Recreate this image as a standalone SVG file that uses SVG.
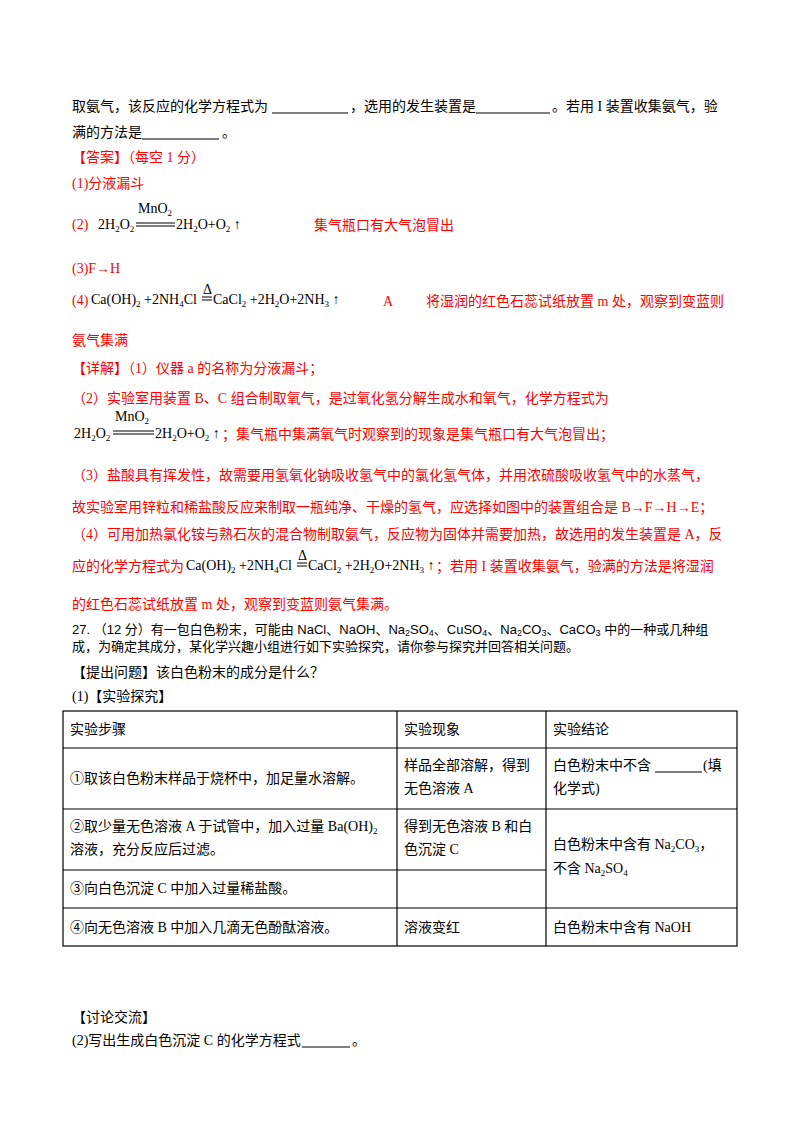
<svg xmlns="http://www.w3.org/2000/svg" width="800" height="1132" viewBox="0 0 800 1132">
<style>
text{font-family:"Liberation Serif","Noto Sans CJK SC",serif;font-size:14px;fill:#000}
.r{fill:#f00}
.s{font-size:9px}
.sans{font-family:"Liberation Sans","Noto Sans CJK SC",sans-serif;font-size:13px}
.ln{stroke:#000;stroke-width:1.2}
.tb{stroke:#000;stroke-width:1.2;fill:none}
</style>
<rect width="800" height="1132" fill="#fff"/>
<g id="question-end">
<text x="72" y="111">取氨气，该反应的化学方程式为</text>
<line class="ln" x1="272" y1="113" x2="348" y2="113"/>
<text x="350" y="111">，选用的发生装置是</text>
<line class="ln" x1="476" y1="113" x2="550" y2="113"/>
<text x="552" y="111">。若用 I 装置收集氨气，验</text>
<text x="72" y="137">满的方法是</text>
<line class="ln" x1="142" y1="139" x2="219" y2="139"/>
<text x="222" y="137">。</text>
</g>
<g id="answer">
<text class="r" x="72" y="162">【答案】（每空 1 分）</text>
<text class="r" x="72" y="188">(1)分液漏斗</text>
<text class="r" x="72" y="229">(2)</text>
<text x="98" y="229">2H<tspan class="s" dy="3">2</tspan><tspan dy="-3">O</tspan><tspan class="s" dy="3">2</tspan></text>
<text x="138" y="213" font-size="12">MnO<tspan class="s" dy="3">2</tspan></text>
<line x1="136" y1="223" x2="175" y2="223" stroke="#000"/><line x1="136" y1="226" x2="175" y2="226" stroke="#000"/>
<text x="176" y="229">2H<tspan class="s" dy="3">2</tspan><tspan dy="-3">O+O</tspan><tspan class="s" dy="3">2</tspan><tspan dy="-3"> ↑</tspan></text>
<text class="r" x="314" y="230">集气瓶口有大气泡冒出</text>
<text class="r" x="72" y="273">(3)F→H</text>
<text class="r" x="72" y="305">(4)</text>
<text x="91" y="304">Ca(OH)<tspan class="s" dy="3">2</tspan><tspan dy="-3"> +2NH</tspan><tspan class="s" dy="3">4</tspan><tspan dy="-3">Cl</tspan></text>
<text x="203" y="294" font-size="11">Δ</text>
<line x1="202" y1="297" x2="212" y2="297" stroke="#000"/><line x1="202" y1="300" x2="212" y2="300" stroke="#000"/>
<text x="213" y="304">CaCl<tspan class="s" dy="3">2</tspan><tspan dy="-3"> +2H</tspan><tspan class="s" dy="3">2</tspan><tspan dy="-3">O+2NH</tspan><tspan class="s" dy="3">3</tspan><tspan dy="-3"> ↑</tspan></text>
<text class="r" x="383" y="306">A</text>
<text class="r" x="426" y="306">将湿润的红色石蕊试纸放置 m 处，观察到变蓝则</text>
<text class="r" x="72" y="345">氨气集满</text>
</g>
<g id="explain">
<text class="r" x="72" y="373">【详解】（1）仪器 a 的名称为分液漏斗；</text>
<text class="r" x="72" y="403">（2）实验室用装置 B、C 组合制取氧气，是过氧化氢分解生成水和氧气，化学方程式为</text>
<text x="74" y="438">2H<tspan class="s" dy="3">2</tspan><tspan dy="-3">O</tspan><tspan class="s" dy="3">2</tspan></text>
<text x="115" y="421" font-size="12">MnO<tspan class="s" dy="3">2</tspan></text>
<line x1="113" y1="431" x2="154" y2="431" stroke="#000"/><line x1="113" y1="434" x2="154" y2="434" stroke="#000"/>
<text x="155" y="438">2H<tspan class="s" dy="3">2</tspan><tspan dy="-3">O+O</tspan><tspan class="s" dy="3">2</tspan><tspan dy="-3"> ↑</tspan></text>
<text class="r" x="222" y="439">；集气瓶中集满氧气时观察到的现象是集气瓶口有大气泡冒出；</text>
<text class="r" x="72" y="480">（3）盐酸具有挥发性，故需要用氢氧化钠吸收氢气中的氯化氢气体，并用浓硫酸吸收氢气中的水蒸气，</text>
<text class="r" x="72" y="512">故实验室用锌粒和稀盐酸反应来制取一瓶纯净、干燥的氢气，应选择如图中的装置组合是 B→F→H→E；</text>
<text class="r" x="72" y="539">（4）可用加热氯化铵与熟石灰的混合物制取氨气，反应物为固体并需要加热，故选用的发生装置是 A，反</text>
<text class="r" x="72" y="571">应的化学方程式为</text>
<text x="186" y="570">Ca(OH)<tspan class="s" dy="3">2</tspan><tspan dy="-3"> +2NH</tspan><tspan class="s" dy="3">4</tspan><tspan dy="-3">Cl</tspan></text>
<text x="298" y="560" font-size="11">Δ</text>
<line x1="297" y1="563" x2="307" y2="563" stroke="#000"/><line x1="297" y1="566" x2="307" y2="566" stroke="#000"/>
<text x="308" y="570">CaCl<tspan class="s" dy="3">2</tspan><tspan dy="-3"> +2H</tspan><tspan class="s" dy="3">2</tspan><tspan dy="-3">O+2NH</tspan><tspan class="s" dy="3">3</tspan><tspan dy="-3"> ↑</tspan></text>
<text class="r" x="436" y="571">；若用 I 装置收集氨气，验满的方法是将湿润</text>
<text class="r" x="72" y="609">的红色石蕊试纸放置 m 处，观察到变蓝则氨气集满。</text>
</g>
<g id="q27">
<text class="sans" x="72" y="634">27.  （12 分）有一包白色粉末，可能由 NaCl、NaOH、Na<tspan class="s" dy="2">2</tspan><tspan dy="-2">SO</tspan><tspan class="s" dy="2">4</tspan><tspan dy="-2">、CuSO</tspan><tspan class="s" dy="2">4</tspan><tspan dy="-2">、Na</tspan><tspan class="s" dy="2">2</tspan><tspan dy="-2">CO</tspan><tspan class="s" dy="2">3</tspan><tspan dy="-2">、CaCO</tspan><tspan class="s" dy="2">3</tspan><tspan dy="-2"> 中的一种或几种组</tspan></text>
<text class="sans" x="72" y="651">成，为确定其成分，某化学兴趣小组进行如下实验探究，请你参与探究并回答相关问题。</text>
<text x="72" y="677">【提出问题】该白色粉末的成分是什么？</text>
<text x="72" y="701">(1)【实验探究】</text>
</g>
<g id="table">
<rect class="tb" x="63" y="711" width="674" height="235"/>
<line class="tb" x1="397" y1="711" x2="397" y2="946"/>
<line class="tb" x1="546" y1="711" x2="546" y2="946"/>
<line class="tb" x1="63" y1="748" x2="737" y2="748"/>
<line class="tb" x1="63" y1="809" x2="737" y2="809"/>
<line class="tb" x1="63" y1="870" x2="546" y2="870"/>
<line class="tb" x1="63" y1="908" x2="737" y2="908"/>
<text x="70" y="734">实验步骤</text>
<text x="404" y="734">实验现象</text>
<text x="553" y="734">实验结论</text>
<text x="70" y="783">①取该白色粉末样品于烧杯中，加足量水溶解。</text>
<text x="404" y="770">样品全部溶解，得到</text>
<text x="404" y="793">无色溶液 A</text>
<text x="553" y="770">白色粉末中不含</text>
<line class="ln" x1="655" y1="772" x2="702" y2="772"/>
<text x="703" y="770">(填</text>
<text x="553" y="793">化学式)</text>
<text x="70" y="831">②取少量无色溶液 A 于试管中，加入过量 Ba(OH)<tspan class="s" dy="3">2</tspan></text>
<text x="70" y="854">溶液，充分反应后过滤。</text>
<text x="404" y="831">得到无色溶液 B 和白</text>
<text x="404" y="854">色沉淀 C</text>
<text x="553" y="849">白色粉末中含有 Na<tspan class="s" dy="3">2</tspan><tspan dy="-3">CO</tspan><tspan class="s" dy="3">3</tspan><tspan dy="-3">，</tspan></text>
<text x="553" y="873">不含 Na<tspan class="s" dy="3">2</tspan><tspan dy="-3">SO</tspan><tspan class="s" dy="3">4</tspan></text>
<text x="70" y="893">③向白色沉淀 C 中加入过量稀盐酸。</text>
<text x="70" y="932">④向无色溶液 B 中加入几滴无色酚酞溶液。</text>
<text x="404" y="932">溶液变红</text>
<text x="553" y="932">白色粉末中含有 NaOH</text>
</g>
<g id="discussion">
<text x="72" y="1022">【讨论交流】</text>
<text x="72" y="1045">(2)写出生成白色沉淀 C 的化学方程式</text>
<line class="ln" x1="302" y1="1047" x2="350" y2="1047"/>
<text x="352" y="1045">。</text>
</g>
</svg>
